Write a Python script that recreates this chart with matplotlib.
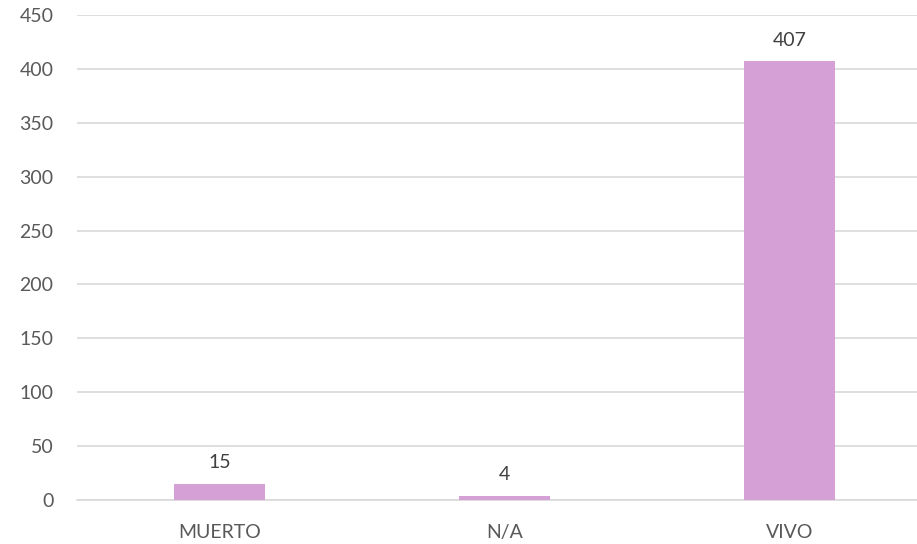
import matplotlib.pyplot as plt

categories = ["MUERTO", "N/A", "VIVO"]
counts = [15, 4, 407]
y_ticks = [0, 50, 100, 150, 200, 250, 300, 350, 400, 450]

BAR_COLOR = "#d5a0d6"
TEXT_COLOR = "#595959"
GRID_COLOR = "#d9d9d9"

plt.rcParams["font.family"] = ["Lato", "DejaVu Sans"]

fig = plt.figure(figsize=(9.17, 5.44), dpi=100)
ax = fig.add_axes([77 / 917, 44 / 544, 855 / 917, 485 / 544])

x = range(len(categories))
bars = ax.bar(x, counts, width=0.316, color=BAR_COLOR, zorder=3)

for rect, val in zip(bars, counts):
    ax.annotate(str(val), (rect.get_x() + rect.get_width() / 2, val),
                xytext=(0, 9), textcoords="offset points",
                ha="center", va="bottom", fontsize=14, color="#404040")

ax.set_xlim(-0.5, len(categories) - 0.5)
ax.set_ylim(0, 450)
ax.set_yticks(y_ticks)
ax.set_xticks(list(x))
ax.set_xticklabels(categories)

ax.grid(axis="y", color=GRID_COLOR, linewidth=1.2, zorder=0)
for side in ("top", "right", "left"):
    ax.spines[side].set_visible(False)
ax.spines["bottom"].set_color(GRID_COLOR)
ax.spines["bottom"].set_linewidth(1.2)

ax.tick_params(axis="both", length=0, labelsize=14, colors=TEXT_COLOR)
ax.tick_params(axis="y", pad=17)
ax.tick_params(axis="x", pad=17)

fig.savefig("out.png", dpi=100)
